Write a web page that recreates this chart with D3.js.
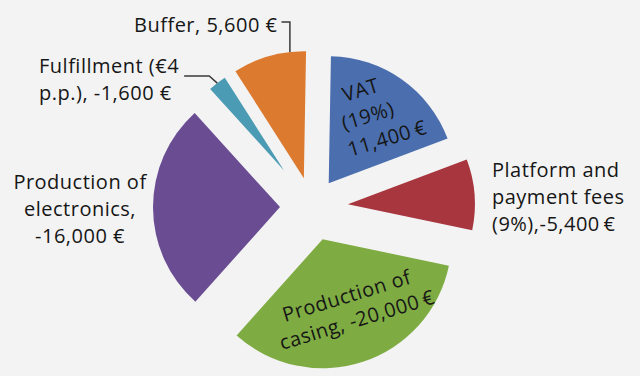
<!DOCTYPE html>
<html>
<head>
<meta charset="utf-8">
<script src="https://cdn.jsdelivr.net/npm/d3@7"></script>
<style>
    body { margin: 0; background: #f3f3f3; }
    svg { display: block; font-family: "Open Sans", sans-serif; }
    .lbl { font-size: 20px; fill: #161616; letter-spacing: 0.5px; }
    .leader { fill: none; stroke: #3a3a3a; stroke-width: 1.5; }
</style>
</head>
<body>
<div id="chart"></div>
<script>
// data (euro amounts per cost item)
const categories = ["VAT", "Platform and payment fees", "Production of casing",
                    "Production of electronics", "Fulfillment", "Buffer"];
const amounts = [11400, 5400, 20000, 16000, 1600, 5600];
const labelLines = [
    ["VAT", "(19%)", "11,400\u2009€"],
    ["Platform and", "payment fees", "(9%),-5,400\u2009€"],
    ["Production of", "casing, -20,000\u2009€"],
    ["Production of", "electronics,", "-16,000 €"],
    ["Fulfillment (€4", "p.p.), -1,600 €"],
    ["Buffer, 5,600 €"]
];
const colors = ["#4a6eae", "#a8363f", "#7eab42", "#6a4c93", "#4a9bb3", "#dc7a2f"];

// layout
const width = 640, height = 376;
const cx = 312, cy = 207;
const explode = [29, 36, 34, 32, 46, 30];
const radii = [127, 127, 129, 127, 110, 127];
const lineH = 27;
// label placement relative to the pie centre
const labelLayout = [
    {x: 33, y: -105, rot: -17, anchor: "start", dx: [0, -9, -11]},
    {x: 180, y: -30, rot: 0, anchor: "start", dx: [0, 0, 0]},
    {x: -27, y: 115, rot: -17, anchor: "start", dx: [0, -11], lh: 26},
    {x: -232, y: -18, rot: 0, anchor: "middle", dx: [0, 0, 0]},
    {x: -273, y: -134, rot: 0, anchor: "start", dx: [0, 0]},
    {x: -178, y: -175, rot: 0, anchor: "start", dx: [0]}
];

const deg = Math.PI / 180;

const svg = d3.select("#chart").append("svg")
    .attr("width", width)
    .attr("height", height);

svg.append("rect").attr("width", width).attr("height", height).attr("fill", "#f3f3f3");

const g = svg.append("g")
    .attr("transform", "translate(" + cx + "," + cy + ")");

const pie = d3.pie()
    .sort(null)
    .startAngle(1 * deg)
    .endAngle(2 * Math.PI + 1 * deg)
    .value(d => d);

const arcs = pie(amounts);

const offset = (d, i) => {
    const mid = (d.startAngle + d.endAngle) / 2;
    return [Math.sin(mid) * explode[i], -Math.cos(mid) * explode[i]];
};

g.selectAll(".slice")
    .data(arcs)
    .enter().append("path")
    .attr("class", "slice")
    .attr("transform", (d, i) => "translate(" + offset(d, i) + ")")
    .attr("d", (d, i) => d3.arc().innerRadius(0).outerRadius(radii[i])(d))
    .attr("fill", (d, i) => colors[i]);

// labels
const labels = g.selectAll(".lbl")
    .data(labelLines)
    .enter().append("text")
    .attr("class", "lbl")
    .attr("text-anchor", (d, i) => labelLayout[i].anchor)
    .attr("transform", (d, i) => "translate(" + labelLayout[i].x + "," + labelLayout[i].y + ") rotate(" + labelLayout[i].rot + ")");

labels.each(function (lines, i) {
    const lay = labelLayout[i];
    d3.select(this).selectAll("tspan")
        .data(lines)
        .enter().append("tspan")
        .attr("x", (l, j) => lay.dx[j])
        .attr("y", (l, j) => j * (lay.lh || lineH))
        .text(l => l);
});

// point on the outer edge of an exploded slice
const edgePoint = (i, angle) => {
    const o = offset(arcs[i], i);
    return [o[0] + Math.sin(angle) * radii[i], o[1] - Math.cos(angle) * radii[i]];
};

const lineEnd = (i, gap) => {
    const t = labels.filter((d, k) => k === i).select("tspan").node();
    return labelLayout[i].x + t.getComputedTextLength() + gap;
};

// leader for Buffer
const bufEdge = edgePoint(5, 353.7 * deg);
const bufY = labelLayout[5].y - 10;
g.append("path")
    .attr("class", "leader")
    .attr("d", d3.line()([[lineEnd(5, 4), bufY], [bufEdge[0], bufY], bufEdge]));

// leader for Fulfillment
const fulEdge = edgePoint(4, (arcs[4].startAngle + arcs[4].endAngle) / 2);
const fulY = labelLayout[4].y + 3;
g.append("path")
    .attr("class", "leader")
    .attr("d", d3.line()([[lineEnd(4, 5), fulY], [fulEdge[0] - 8, fulY], fulEdge]));
</script>
</body>
</html>
